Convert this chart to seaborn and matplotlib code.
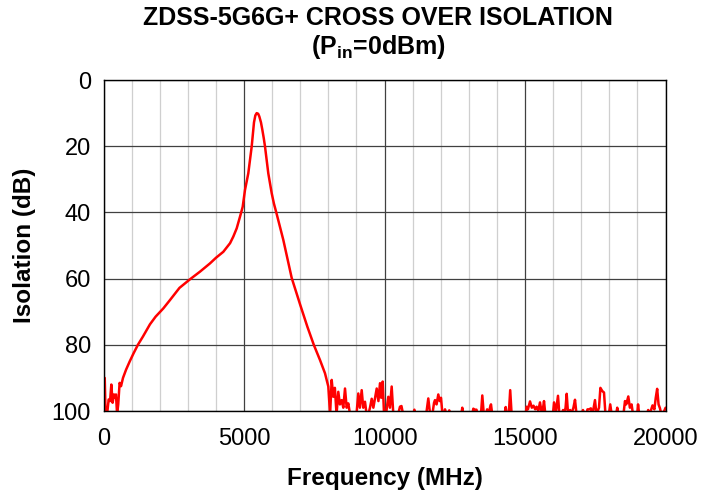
import matplotlib
matplotlib.use("Agg")
import matplotlib.pyplot as plt
from matplotlib.ticker import MultipleLocator
import pandas as pd
import seaborn as sns

# 読み取り値 (周波数 MHz, アイソレーション dB)
freq_mhz = [
    0, 40, 70, 130, 180, 230, 275, 320, 370, 400, 440, 480, 520, 570, 620, 690,
    800, 930, 1070, 1220, 1400, 1650, 1850, 2125, 2360, 2700, 3075, 3430,
    3786, 4000, 4260, 4500, 4616, 4737, 4854, 4950, 5032, 5149, 5270, 5300, 5352,
    5400, 5448, 5500, 5541, 5600, 5648, 5700, 5744, 5861, 5982, 6060, 6160, 6395,
    6694, 7000, 7250, 7480, 7701, 7879, 7997,
    8060, 8117, 8174, 8230, 8290, 8352, 8410, 8473, 8530, 8591, 8650, 8708, 8770,
    8830, 8900, 9000, 9064, 9120, 9185, 9240, 9302, 9360, 9420, 9480, 9541, 9600,
    9660, 9719, 9780, 9836, 9880, 9932, 9980, 10050, 10132, 10190, 10252, 10310,
    10370, 10480, 10548, 10600, 10660,
    11020, 11060, 11100, 11480, 11555, 11620, 11700, 11760, 11794, 11850, 11911,
    11960, 12007, 12060, 12120, 12150, 12190, 12270, 12300, 12330, 12730, 12765,
    12800, 13120, 13157, 13210, 13270, 13310, 13430, 13477, 13530, 13600, 13650,
    13700, 13750, 13786, 13830, 14270, 14310, 14350, 14420, 14470, 14520,
    15020, 15057, 15100, 15175, 15240, 15300, 15360, 15410, 15470, 15530, 15600,
    15640, 15673, 15720, 15990, 16030, 16100, 16171, 16220, 16320, 16350, 16390,
    16440, 16480, 16530, 16570, 16600, 16640, 16720, 16776, 16830, 17030, 17060,
    17100, 17180, 17220, 17280, 17340, 17400, 17440, 17487, 17540, 17630, 17680,
    17750, 17808, 17860, 17980, 18030, 18080, 18240, 18280, 18320, 18500, 18555,
    18600, 18673, 18730, 18790, 18840, 18990, 19020, 19060, 19340, 19380, 19420,
    19490, 19535, 19600, 19650, 19700, 19750, 19800, 19850, 19950, 20000,
]
isolation_db = [
    90.5, 90, 101, 100.5, 96.5, 97, 92, 97.5, 95, 96, 95, 101, 98, 91.5, 92.5, 90,
    87.5, 85, 82.5, 80, 77.5, 73.8, 71.5, 69, 66.5, 62.8, 60.2, 57.9,
    55.4, 53.7, 51.9, 49.3, 47.3, 44.8, 41.3, 38.3, 33.2, 28.2, 20.1, 17.5, 12.8,
    10.7, 10.0, 10.2, 11.0, 12.8, 15.0, 17.6, 20.1, 28.2, 34.2, 37.3, 40.5, 48.3,
    59.8, 68.0, 74.5, 80, 84.6, 88.6, 92.6,
    101, 90.6, 95.7, 93, 101, 94.2, 98, 96.7, 99, 93.2, 99, 97.7, 101,
    100.5, 101, 101, 94.7, 99, 93.7, 99, 97.2, 101, 101, 99, 96.3, 99,
    96, 93.2, 97, 91.6, 96, 91.1, 101, 101, 95.7, 99, 92.6, 101,
    101, 101, 98.7, 98.5, 101,
    101, 99.6, 101, 101, 96.2, 101, 101, 97.5, 96.7, 98, 95,
    97, 96, 101, 101, 99.5, 101, 101, 99.8, 101, 101, 99,
    101, 101, 99.3, 99.6, 99.6, 101, 101, 95.3, 101, 101, 99.5,
    101, 99, 98, 101, 101, 98.8, 101, 101, 93.7, 101,
    101, 98.7, 99.5, 97.1, 99, 98.4, 99.5, 98.7, 100, 97.4, 101,
    99, 97, 101, 101, 97.4, 100, 95.4, 101, 101, 99.7, 101,
    99, 94.8, 101, 101, 99.7, 101, 99, 96.6, 101, 101, 99.7,
    101, 101, 99.5, 99.5, 99.2, 101, 99, 96.7, 101, 99, 93,
    94, 94.4, 101, 101, 98, 101, 101, 99, 101, 101, 97,
    98, 95.6, 99, 98, 101, 101, 98, 101, 101, 99.7, 101,
    99.5, 98.3, 99.5, 96, 93.3, 98, 99.2, 101, 100, 99,
]

x_ticks = [0, 5000, 10000, 15000, 20000]
y_ticks = [0, 20, 40, 60, 80, 100]

df = pd.DataFrame({"Frequency": freq_mhz, "Isolation": isolation_db})

sns.set_style("white")
plt.rcParams["font.family"] = ["Liberation Sans", "DejaVu Sans"]
plt.rcParams["text.color"] = "black"
plt.rcParams["xtick.color"] = "black"
plt.rcParams["ytick.color"] = "black"
plt.rcParams["mathtext.fontset"] = "custom"
plt.rcParams["mathtext.rm"] = "Liberation Sans:bold"

fig = plt.figure(figsize=(7.17, 4.93), dpi=100)
ax = fig.add_axes([0.1445, 0.1663, 0.7838, 0.6714])

sns.lineplot(data=df, x="Frequency", y="Isolation", ax=ax, color="#ff0000",
             linewidth=1.8, estimator=None, sort=False)

ax.set_xlim(0, 20000)
ax.set_ylim(100, 0)
ax.set_xticks(x_ticks)
ax.set_yticks(y_ticks)
ax.xaxis.set_minor_locator(MultipleLocator(1000))
ax.grid(which="major", color="#404040", linewidth=0.9)
ax.grid(which="minor", axis="x", color="#cfcfcf", linewidth=0.9)
ax.set_axisbelow(True)
for s in ax.spines.values():
    s.set_color("black")
    s.set_linewidth(1.0)

ax.tick_params(axis="x", which="both", length=0, labelsize=17, pad=12)
ax.tick_params(axis="y", which="major", length=5, width=0.9, color="black",
               direction="out", labelsize=17, pad=4)
ax.tick_params(axis="y", which="minor", length=0)
ax.set_xlabel("")
ax.set_ylabel("")

fig.text(0.5364, 0.0304, "Frequency (MHz)", ha="center", va="center",
         fontsize=17.5, fontweight="bold")
fig.text(25 / 717, 0.502, "Isolation (dB)", ha="center", va="center",
         rotation=90, fontsize=17.5, fontweight="bold")
fig.text(0.527, 0.9635, "ZDSS-5G6G+ CROSS OVER ISOLATION", ha="center",
         va="center", fontsize=18, fontweight="bold")
fig.text(0.527, 0.9047, r"(P$\mathrm{_{in}}$=0dBm)", ha="center",
         va="center", fontsize=18, fontweight="bold")

fig.savefig("out.png", dpi=100)
